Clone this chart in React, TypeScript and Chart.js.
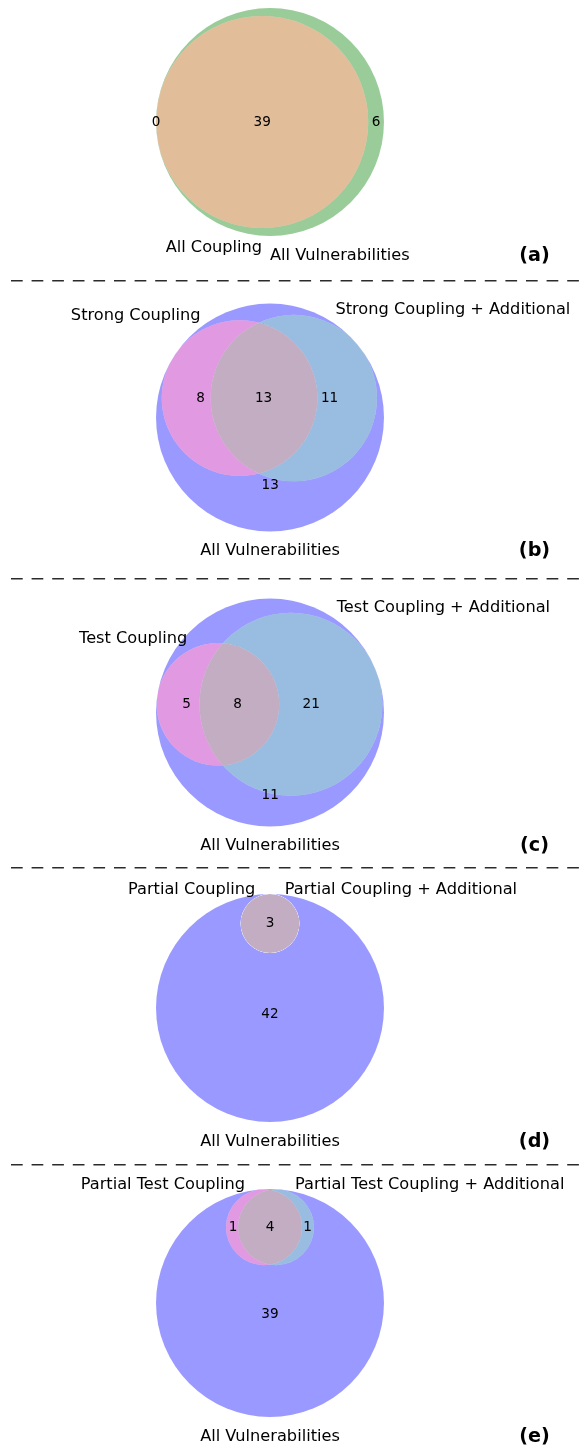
import React, { useEffect, useRef } from 'react';
import { Chart, registerables } from 'chart.js';

Chart.register(...registerables);

// ---------------- data ----------------
const PANEL_TAGS = ['(a)', '(b)', '(c)', '(d)', '(e)'];
const SET_A_LABELS = ['All Coupling', 'Strong Coupling', 'Test Coupling', 'Partial Coupling', 'Partial Test Coupling'];
const SET_B_LABELS = [
  'All Vulnerabilities',
  'Strong Coupling + Additional',
  'Test Coupling + Additional',
  'Partial Coupling + Additional',
  'Partial Test Coupling + Additional',
];
const SET_C_LABEL = 'All Vulnerabilities';
// two-set diagram (a): [A only, B only, A and B]
const ALL_COUPLING_SUBSETS = [0, 6, 39];
// three-set diagrams: [A only, B only, A∩B only, C only, A∩C only, B∩C only, A∩B∩C]
const STRONG_SUBSETS = [0, 0, 0, 13, 8, 11, 13];
const TEST_SUBSETS = [0, 0, 0, 11, 5, 21, 8];
const PARTIAL_SUBSETS = [0, 0, 0, 42, 0, 0, 3];
const PARTIAL_TEST_SUBSETS = [0, 0, 0, 39, 1, 1, 4];

// ---------------- layout / style ----------------
const W = 579;
const H = 1450;
const PX_PER_UNIT = 202;
const CENTER_X_PX = 270;
const PANEL_CENTER_Y_PX = [122, 417.5, 712.5, 1008, 1303];
const SEPARATOR_Y_PX = [280.7, 578.7, 867.7, 1164.7];
const SEPARATOR_START_PX = 11;
const TAG_X_PX = 534.5;
const FONT = '"DejaVu Sans", "Liberation Sans", sans-serif';
const SET_FONT = `16.2px ${FONT}`;
const NUM_FONT = `13.6px ${FONT}`;
const TAG_FONT = `bold 19.2px ${FONT}`;
const ALPHA = 0.4;
const BASE_A = [1, 0, 0];
const BASE_B = [0, 0.5, 0];
const BASE_C = [0, 0, 1];
const LABEL_PUSH_V_PX = 8;
const LABEL_PUSH_H_PX = 5;

const mix = (k: number, ...cols: number[][]) => [0, 1, 2].map((i) => k * cols.reduce((s, c) => s + c[i], 0));
const rgba = (c: number[]) =>
  `rgba(${Math.round(Math.min(1, c[0]) * 255)},${Math.round(Math.min(1, c[1]) * 255)},${Math.round(Math.min(1, c[2]) * 255)},${ALPHA})`;

const V2_BITS = [[1, 0], [0, 1], [1, 1]];
const V2_COLORS = [BASE_A, BASE_B, mix(0.7, BASE_A, BASE_B)].map(rgba);
const V3_BITS = [[1, 0, 0], [0, 1, 0], [1, 1, 0], [0, 0, 1], [1, 0, 1], [0, 1, 1], [1, 1, 1]];
const V3_COLORS = [
  BASE_A,
  BASE_B,
  mix(0.7, BASE_A, BASE_B),
  BASE_C,
  mix(0.7, BASE_A, BASE_C),
  mix(0.7, BASE_B, BASE_C),
  mix(0.4, BASE_A, BASE_B, BASE_C),
].map(rgba);

// ---------------- geometry (area-proportional venn) ----------------
type Circ = { x: number; y: number; r: number };

function intersectionArea(R: number, r: number, d: number) {
  if (d >= R + r) return 0;
  if (d <= Math.abs(R - r)) return Math.PI * Math.min(R, r) ** 2;
  const a1 = r * r * Math.acos((d * d + r * r - R * R) / (2 * d * r));
  const a2 = R * R * Math.acos((d * d + R * R - r * r) / (2 * d * R));
  const a3 = 0.5 * Math.sqrt((-d + r + R) * (d + r - R) * (d - r + R) * (d + r + R));
  return a1 + a2 - a3;
}

function distanceByArea(r: number, R: number, a: number) {
  if (a <= 1e-9) return r + R;
  if (a >= Math.PI * Math.min(r, R) ** 2 - 1e-9) return Math.abs(r - R);
  let lo = Math.abs(r - R);
  let hi = r + R;
  for (let i = 0; i < 100; i++) {
    const mid = (lo + hi) / 2;
    if (intersectionArea(R, r, mid) > a) lo = mid;
    else hi = mid;
  }
  return (lo + hi) / 2;
}

function centerOnBox(cs: Circ[], cyUnits: number): Circ[] {
  const minX = Math.min(...cs.map((c) => c.x - c.r));
  const maxX = Math.max(...cs.map((c) => c.x + c.r));
  const minY = Math.min(...cs.map((c) => c.y - c.r));
  const maxY = Math.max(...cs.map((c) => c.y + c.r));
  const ox = (minX + maxX) / 2;
  const oy = (minY + maxY) / 2;
  return cs.map((c) => ({ x: c.x - ox, y: c.y - oy + cyUnits, r: c.r }));
}

function venn2Layout(s: number[], cy: number): Circ[] {
  const t = s.reduce((a, b) => a + b, 0);
  const aA = (s[0] + s[2]) / t;
  const aB = (s[1] + s[2]) / t;
  const rA = Math.sqrt(aA / Math.PI);
  const rB = Math.sqrt(aB / Math.PI);
  const d = distanceByArea(rA, rB, s[2] / t);
  return centerOnBox([{ x: 0, y: 0, r: rA }, { x: d, y: 0, r: rB }], cy);
}

function venn3Layout(s: number[], cy: number): Circ[] {
  const t = s.reduce((a, b) => a + b, 0);
  const [Abc, aBc, ABc, abC, AbC, aBC, ABC] = s.map((v) => v / t);
  const rA = Math.sqrt((Abc + ABc + AbC + ABC) / Math.PI);
  const rB = Math.sqrt((aBc + ABc + aBC + ABC) / Math.PI);
  const rC = Math.sqrt((abC + AbC + aBC + ABC) / Math.PI);
  const d = [distanceByArea(rA, rB, ABc + ABC), distanceByArea(rB, rC, aBC + ABC), distanceByArea(rC, rA, AbC + ABC)];
  for (let i = 0; i < 3; i++) {
    const j = (i + 1) % 3;
    const k = (i + 2) % 3;
    if (d[i] > d[j] + d[k]) {
      const [a, b] = d[j] < d[k] ? [j, k] : [k, j];
      d[i] = d[b] + d[a] * 0.8;
    }
  }
  const [dAB, dBC, dAC] = d;
  let cx = 0;
  let cyy = -dAC;
  if (dAB > 1e-9) {
    cx = (dAC * dAC - dBC * dBC + dAB * dAB) / (2 * dAB);
    cyy = -Math.sqrt(Math.max(0, dAC * dAC - cx * cx));
  }
  return centerOnBox([{ x: 0, y: 0, r: rA }, { x: dAB, y: 0, r: rB }, { x: cx, y: cyy, r: rC }], cy);
}

const inRegion = (cs: Circ[], bits: number[], x: number, y: number) =>
  cs.every((c, i) => ((x - c.x) ** 2 + (y - c.y) ** 2 <= c.r * c.r) === !!bits[i]);

const STEP = 0.0025;
function regionLabelPoint(cs: Circ[], bits: number[]) {
  const minX = Math.min(...cs.map((c) => c.x - c.r));
  const maxX = Math.max(...cs.map((c) => c.x + c.r));
  const minY = Math.min(...cs.map((c) => c.y - c.r));
  const maxY = Math.max(...cs.map((c) => c.y + c.r));
  let sx = 0, sy = 0, n = 0;
  let bx0 = Infinity, bx1 = -Infinity;
  for (let x = minX; x <= maxX; x += STEP) {
    for (let y = minY; y <= maxY; y += STEP) {
      if (inRegion(cs, bits, x, y)) {
        sx += x; sy += y; n++;
        if (x < bx0) bx0 = x;
        if (x > bx1) bx1 = x;
      }
    }
  }
  if (!n) return null;
  const px = sx / n;
  const py = sy / n;
  if (inRegion(cs, bits, px, py)) return { x: px, y: py };
  // nearest way out of the hole: down, left, right, up
  const dirs = [[0, -1], [-1, 0], [1, 0], [0, 1]];
  let best: { k: number; dir: number[] } | null = null;
  dirs.forEach((dir) => {
    for (let k = 1; k < 3000; k++) {
      const x = px + dir[0] * k * STEP;
      const y = py + dir[1] * k * STEP;
      if (x < minX || x > maxX || y < minY || y > maxY) break;
      if (inRegion(cs, bits, x, y)) {
        if (!best || k < best.k) best = { k, dir };
        break;
      }
    }
  });
  if (!best) return { x: px, y: py };
  const b = best as { k: number; dir: number[] };
  const vertical = b.dir[0] === 0;
  const dist = b.k * STEP + (vertical ? LABEL_PUSH_V_PX : LABEL_PUSH_H_PX) / PX_PER_UNIT;
  return {
    x: vertical ? (bx0 + bx1) / 2 : px + b.dir[0] * dist,
    y: py + b.dir[1] * dist,
  };
}

const yUnit = (px: number) => -px / PX_PER_UNIT;
const xUnit = (px: number) => (px - CENTER_X_PX) / PX_PER_UNIT;

const SUBSETS = [ALL_COUPLING_SUBSETS, STRONG_SUBSETS, TEST_SUBSETS, PARTIAL_SUBSETS, PARTIAL_TEST_SUBSETS];

const PANELS = SUBSETS.map((subsets, p) => {
  const two = subsets.length === 3;
  const circles = two ? venn2Layout(subsets, yUnit(PANEL_CENTER_Y_PX[p])) : venn3Layout(subsets, yUnit(PANEL_CENTER_Y_PX[p]));
  const bits = two ? V2_BITS : V3_BITS;
  const labelPts = two ? null : bits.map((b, k) => (subsets[k] > 0 ? regionLabelPoint(circles, b) : null));
  return {
    two,
    subsets,
    circles,
    bits,
    colors: two ? V2_COLORS : V3_COLORS,
    labelPts,
    setLabels: two ? [SET_A_LABELS[p], SET_B_LABELS[p]] : [SET_A_LABELS[p], SET_B_LABELS[p], SET_C_LABEL],
    tag: PANEL_TAGS[p],
  };
});

const vennPlugin = {
  id: 'vennRegions',
  beforeDatasetsDraw(chart: any) {
    const ctx = chart.ctx as CanvasRenderingContext2D;
    PANELS.forEach((pn, p) => {
      const circ = chart.getDatasetMeta(p).data.map((el: any) => ({ x: el.x, y: el.y, r: el.options.radius }));
      pn.bits.forEach((bits, k) => {
        if (pn.subsets[k] <= 0) return;
        ctx.save();
        bits.forEach((b, i) => {
          if (!b) return;
          ctx.beginPath();
          ctx.arc(circ[i].x, circ[i].y, circ[i].r, 0, Math.PI * 2);
          ctx.clip();
        });
        bits.forEach((b, i) => {
          if (b) return;
          ctx.beginPath();
          ctx.rect(0, 0, chart.width, chart.height);
          ctx.moveTo(circ[i].x + circ[i].r, circ[i].y);
          ctx.arc(circ[i].x, circ[i].y, circ[i].r, 0, Math.PI * 2);
          ctx.clip('evenodd');
        });
        ctx.fillStyle = pn.colors[k];
        ctx.fillRect(0, 0, chart.width, chart.height);
        ctx.restore();
      });
    });
  },
  afterDatasetsDraw(chart: any) {
    const ctx = chart.ctx as CanvasRenderingContext2D;
    const xs = chart.scales.x;
    const ys = chart.scales.y;
    ctx.save();
    ctx.fillStyle = '#000';
    PANELS.forEach((pn, p) => {
      const c = chart.getDatasetMeta(p).data.map((el: any) => ({ x: el.x, y: el.y, r: el.options.radius }));
      // region counts
      ctx.font = NUM_FONT;
      ctx.textAlign = 'center';
      ctx.textBaseline = 'middle';
      if (pn.two) {
        const [a, b] = c;
        const yy = a.y;
        const pos = [
          ((a.x - a.r) + (b.x - b.r)) / 2,
          ((a.x + a.r) + (b.x + b.r)) / 2,
          ((b.x - b.r) + (a.x + a.r)) / 2,
        ];
        pn.subsets.forEach((v, k) => ctx.fillText(String(v), pos[k], yy));
      } else {
        pn.labelPts!.forEach((pt, k) => {
          if (!pt) return;
          ctx.fillText(String(pn.subsets[k]), xs.getPixelForValue(pt.x), ys.getPixelForValue(pt.y));
        });
      }
      // set labels
      ctx.font = SET_FONT;
      ctx.textBaseline = 'alphabetic';
      let bottomBase = 0;
      if (pn.two) {
        const [a, b] = c;
        ctx.textAlign = 'right';
        ctx.fillText(pn.setLabels[0], a.x, a.y + a.r + 23.8);
        ctx.textAlign = 'left';
        bottomBase = b.y + b.r + 23.8;
        ctx.fillText(pn.setLabels[1], b.x, bottomBase);
      } else {
        const [a, b, cc] = c;
        ctx.textAlign = 'right';
        ctx.fillText(pn.setLabels[0], a.x - a.r / 2, a.y - a.r - 0.5);
        ctx.textAlign = 'left';
        ctx.fillText(pn.setLabels[1], b.x + b.r / 2, b.y - b.r - 0.5);
        ctx.textAlign = 'center';
        bottomBase = cc.y + cc.r + 23.8;
        ctx.fillText(pn.setLabels[2], cc.x, bottomBase);
      }
      // panel tag
      ctx.font = TAG_FONT;
      ctx.textAlign = 'center';
      ctx.fillText(pn.tag, TAG_X_PX, bottomBase + 1);
    });
    ctx.restore();
  },
};

export default function App() {
  const ref = useRef<HTMLCanvasElement | null>(null);
  useEffect(() => {
    if (!ref.current) return;
    const circleSets = PANELS.map((pn) => ({
      type: 'scatter' as const,
      data: pn.circles.map((c) => ({ x: c.x, y: c.y, ru: c.r })),
      pointRadius: (ctx: any) => {
        const raw = ctx.raw;
        if (!raw) return 0;
        const s = ctx.chart.scales.x;
        return Math.abs(s.getPixelForValue(raw.x + raw.ru) - s.getPixelForValue(raw.x));
      },
      pointHoverRadius: 0,
      pointBackgroundColor: 'rgba(0,0,0,0)',
      pointBorderColor: 'rgba(0,0,0,0)',
      pointBorderWidth: 0,
    }));
    const separators = SEPARATOR_Y_PX.map((ypx) => ({
      type: 'line' as const,
      data: [
        { x: xUnit(SEPARATOR_START_PX), y: yUnit(ypx) },
        { x: xUnit(W + 30), y: yUnit(ypx) },
      ],
      borderColor: '#2b2b2b',
      borderWidth: 1.4,
      borderDash: [11.7, 8.9],
      pointRadius: 0,
      fill: false,
    }));
    const chart = new Chart(ref.current, {
      type: 'scatter',
      data: { datasets: [...circleSets, ...separators] as any },
      options: {
        animation: false,
        responsive: false,
        maintainAspectRatio: false,
        events: [],
        layout: { padding: 0 },
        plugins: { legend: { display: false }, tooltip: { enabled: false } },
        scales: {
          x: { type: 'linear', display: false, min: xUnit(0), max: xUnit(W) },
          y: { type: 'linear', display: false, min: yUnit(H), max: yUnit(0) },
        },
      },
      plugins: [vennPlugin],
    });
    return () => chart.destroy();
  }, []);
  return (
    <div style={{ position: 'absolute', left: 0, top: 0, width: W, height: H, background: '#fff' }}>
      <canvas ref={ref} width={W} height={H} style={{ width: W, height: H, display: 'block' }} />
    </div>
  );
}
